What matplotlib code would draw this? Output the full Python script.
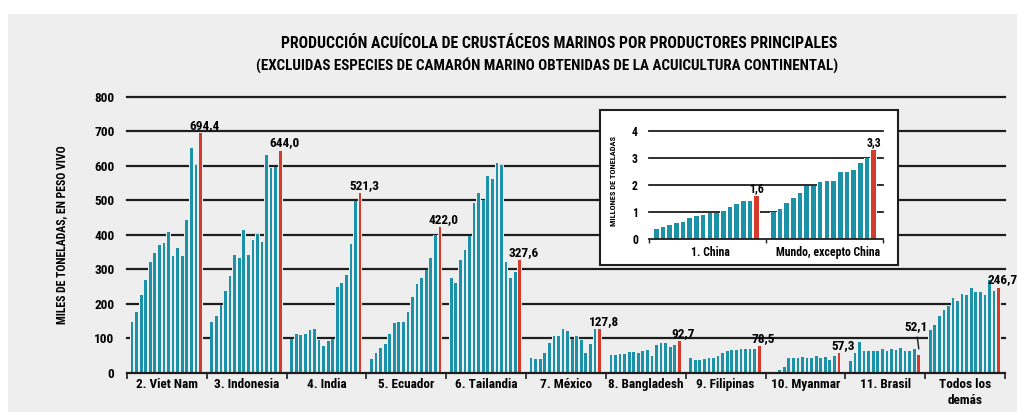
import matplotlib
matplotlib.use('Agg')
import matplotlib.pyplot as plt
from matplotlib import font_manager as fm
from matplotlib.patches import Rectangle
import numpy as np

# Datos (miles de toneladas), 16 años por productor, el último en rojo
paises = ['2. Viet Nam', '3. Indonesia', '4. India', '5. Ecuador', '6. Tailandia',
          '7. México', '8. Bangladesh', '9. Filipinas', '10. Myanmar', '11. Brasil',
          'Todos los\ndemás']
viet_nam = [147, 176, 226, 270, 321, 346, 370, 375, 407, 339, 360, 339, 443, 650, 601, 694.4]
indonesia = [148, 164, 196, 238, 280, 341, 333, 413, 340, 385, 401, 379, 632, 592, 595, 644.0]
india = [98, 111, 108, 112, 125, 128, 94, 76, 91, 98, 247, 261, 284, 372, 497, 521.3]
ecuador = [40, 58, 73, 84, 112, 143, 148, 148, 175, 219, 256, 274, 298, 333, 398, 422.0]
tailandia = [275, 261, 328, 357, 397, 491, 520, 500, 570, 560, 607, 602, 320, 275, 291, 327.6]
mexico = [43, 40, 40, 58, 85, 107, 107, 126, 121, 99, 105, 96, 56, 82, 126, 127.8]
bangladesh = [51, 51, 53, 53, 59, 61, 58, 63, 66, 49, 80, 85, 87, 75, 80, 92.7]
filipinas = [44, 37, 38, 39, 43, 44, 48, 58, 64, 66, 66, 70, 70, 70, 70, 78.5]
myanmar = [0, 0, 8, 16, 44, 44, 44, 46, 43, 43, 48, 44, 46, 37, 48, 57.3]
brasil = [35, 57, 88, 62, 62, 64, 64, 69, 64, 69, 65, 72, 64, 64, 69, 52.1]
demas = [124, 137, 163, 182, 194, 216, 207, 228, 226, 246, 233, 233, 226, 268, 237, 246.7]
series = [viet_nam, indonesia, india, ecuador, tailandia, mexico, bangladesh,
          filipinas, myanmar, brasil, demas]

# Recuadro (millones de toneladas)
grupos_inset = ['1. China', 'Mundo, excepto China']
china = [0.37, 0.47, 0.53, 0.59, 0.65, 0.77, 0.86, 0.88, 0.96, 0.98, 1.04, 1.20, 1.29, 1.41, 1.41, 1.6]
mundo_sin_china = [0.99, 1.10, 1.35, 1.51, 1.69, 1.98, 1.98, 2.10, 2.16, 2.16, 2.49, 2.49, 2.55, 2.80, 3.00, 3.3]

# fuente estrecha en negrita si hay alguna instalada
candidatas = ['Roboto Condensed', 'Archivo Narrow', 'PT Sans Narrow', 'Liberation Sans Narrow',
              'Fira Sans Condensed', 'Barlow Condensed', 'Asap Condensed', 'Encode Sans Condensed',
              'IBM Plex Sans Condensed', 'Open Sans Condensed', 'Pragati Narrow', 'Sofia Sans Condensed']
negritas = {f.name for f in fm.fontManager.ttflist if f.weight in (600, 700, 800, 'bold')}
fuente = next((c for c in candidatas if c in negritas), None)
if fuente:
    plt.rcParams['font.family'] = [fuente, 'DejaVu Sans']
    k = 1.0
else:
    plt.rcParams['font.family'] = ['DejaVu Sans']
    k = 0.8
plt.rcParams['font.weight'] = 'bold'

FONDO = '#eeeeee'
VERDE = '#1b92a8'
ROJO = '#d63a2c'
LINEA = '#1e1e1e'
ANCHO = 17.5
W, H = 1017, 412


def fx(px):
    return px / W


def fy(py):
    return 1 - py / H


def barras(ax, datos, color_halo, ancho_barra):
    for g, valores in enumerate(datos):
        x = g * ANCHO + 1.1 + np.arange(len(valores))
        colores = [VERDE] * (len(valores) - 1) + [ROJO]
        ax.bar(x, valores, width=1.0, color=color_halo, zorder=2)
        ax.bar(x, valores, width=ancho_barra, color=colores, zorder=3)


def etiqueta(v):
    return f'{v:.1f}'.replace('.', ',')


fig = plt.figure(figsize=(W / 100, H / 100), dpi=100)
fig.patch.set_facecolor('white')
fig.add_artist(Rectangle((fx(8), 0), 1, fy(14), transform=fig.transFigure,
                         facecolor=FONDO, edgecolor='none', zorder=-5))

# Títulos
fig.text(fx(559), fy(44), 'PRODUCCIÓN ACUÍCOLA DE CRUSTÁCEOS MARINOS POR PRODUCTORES PRINCIPALES',
         ha='center', va='center', fontsize=11.3 * k)
fig.text(fx(547), fy(66), '(EXCLUIDAS ESPECIES DE CAMARÓN MARINO OBTENIDAS DE LA ACUICULTURA CONTINENTAL)',
         ha='center', va='center', fontsize=10.8 * k)
fig.text(fx(62), fy(235), 'MILES DE TONELADAS, EN PESO VIVO', rotation=90,
         ha='center', va='center', fontsize=8.5 * k)

# Gráfico principal
ax = fig.add_axes([fx(127), (H - 372.7) / H, fx(878), 276 / H], zorder=0)
ax.set_facecolor('none')
ax.set_xlim(0, 11 * ANCHO)
ax.set_ylim(0, 800)
for s in ax.spines.values():
    s.set_visible(False)
for y in range(100, 900, 100):
    ax.axhline(y, color=LINEA, lw=1.6, zorder=1, clip_on=False)
ax.axhline(0, color=LINEA, lw=1.6, zorder=4, clip_on=False)
barras(ax, series, FONDO, 0.6)

ax.set_yticks(range(0, 900, 100))
ax.set_yticklabels([str(v) for v in range(0, 900, 100)], fontsize=9.5 * k)
ax.tick_params(axis='y', length=0, pad=9)
ax.set_xticks(np.arange(12) * ANCHO)
ax.set_xticklabels([])
ax.tick_params(axis='x', which='major', length=4, width=1.2, color=LINEA, direction='out')
ax.set_xticks(np.arange(11) * ANCHO + ANCHO / 2, minor=True)
ax.set_xticklabels(paises, minor=True, fontsize=9.5 * k, linespacing=1.3)
ax.tick_params(axis='x', which='minor', length=0, pad=4)

for g, valores in enumerate(series):
    xr = g * ANCHO + 1.1 + len(valores) - 1
    v = valores[-1]
    if paises[g] == '11. Brasil':
        ax.annotate(etiqueta(v), (xr, v + 17), xytext=(-3, 16), textcoords='offset pixels',
                    ha='center', va='bottom', fontsize=9.5 * k,
                    arrowprops=dict(arrowstyle='-', color=LINEA, lw=1, shrinkA=1, shrinkB=0),
                    annotation_clip=False)
    else:
        ax.annotate(etiqueta(v), (xr, v), xytext=(4, 1), textcoords='offset pixels',
                    ha='center', va='bottom', fontsize=9.5 * k, annotation_clip=False)

# Recuadro
fig.add_artist(Rectangle((fx(600), fy(265)), fx(298), 155 / H, transform=fig.transFigure,
                         facecolor='white', edgecolor=LINEA, lw=1.5, zorder=1))
axi = fig.add_axes([fx(649), (H - 239.3) / H, fx(234), 108.6 / H], zorder=2)
axi.set_facecolor('none')
axi.set_xlim(0, 2 * ANCHO)
axi.set_ylim(0, 4)
for s in axi.spines.values():
    s.set_visible(False)
for y in range(1, 5):
    axi.axhline(y, color=LINEA, lw=1.3, zorder=1, clip_on=False)
axi.axhline(0, color=LINEA, lw=1.3, zorder=4, clip_on=False)
barras(axi, [china, mundo_sin_china], 'white', 0.7)
axi.set_yticks(range(5))
axi.set_yticklabels([str(v) for v in range(5)], fontsize=8.5 * k)
axi.tick_params(axis='y', length=0, pad=8)
axi.set_xticks(np.arange(3) * ANCHO)
axi.set_xticklabels([])
axi.tick_params(axis='x', which='major', length=3, width=1, color=LINEA, direction='out')
axi.set_xticks(np.arange(2) * ANCHO + ANCHO / 2 + 0.5, minor=True)
axi.set_xticklabels(grupos_inset, minor=True, fontsize=8.5 * k)
axi.tick_params(axis='x', which='minor', length=0, pad=5)
for g, valores in enumerate([china, mundo_sin_china]):
    xr = g * ANCHO + 1.1 + len(valores) - 1
    axi.annotate(etiqueta(valores[-1]), (xr, valores[-1]), xytext=(0, 1),
                 textcoords='offset pixels', ha='center', va='bottom', fontsize=8.5 * k,
                 annotation_clip=False)
fig.text(fx(613), fy(181), 'MILLONES DE TONELADAS', rotation=90,
         ha='center', va='center', fontsize=6 * k, zorder=3)

fig.savefig('out.png', dpi=100, facecolor=fig.get_facecolor())
